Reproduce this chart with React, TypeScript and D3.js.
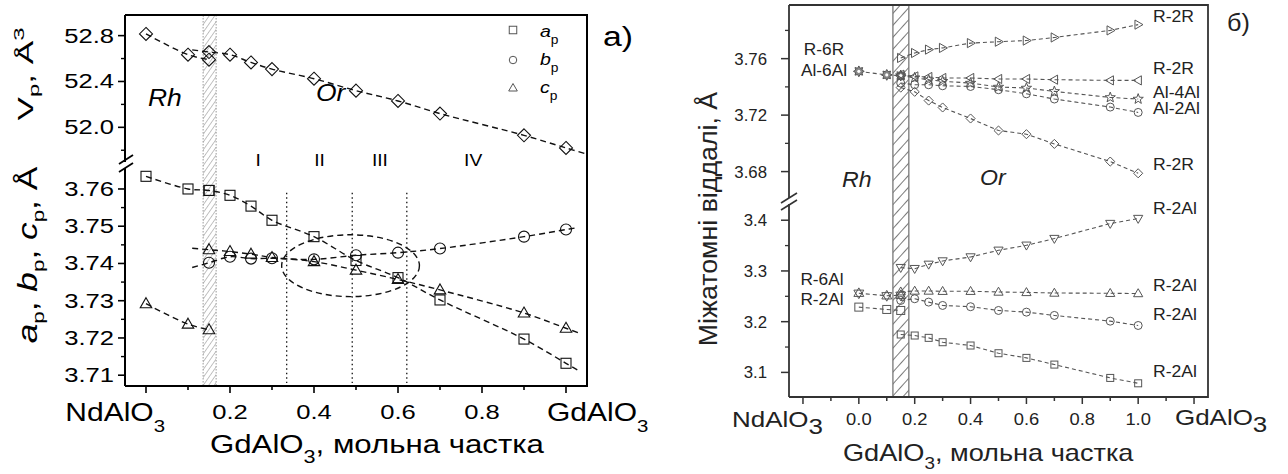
import React from "react";
import * as d3 from "d3";

const FONT = "'Liberation Sans', Arial, Helvetica, sans-serif";

// ---------------- Left panel (a) data ----------------
const compRh = [0, 0.1, 0.15];
const compOr = [0.15, 0.2, 0.25, 0.3, 0.4, 0.5, 0.6, 0.7, 0.9, 1.0];
const vpRh = [52.815, 52.634, 52.59];
const vpOr = [52.657, 52.634, 52.566, 52.508, 52.424, 52.32, 52.23, 52.12, 51.93, 51.82];
const apRh = [3.7634, 3.76, 3.7596];
const apOr = [3.7596, 3.7583, 3.7554, 3.7516, 3.7472, 3.7408, 3.7362, 3.7302, 3.7197, 3.7132];
const bpOr = [3.7402, 3.7418, 3.7413, 3.7414, 3.7411, 3.7422, 3.7429, 3.744, 3.7472, 3.7491];
const cpRh = [3.7292, 3.7237, 3.7222];
const cpOr = [3.7437, 3.7432, 3.7425, 3.7416, 3.7405, 3.7382, 3.7357, 3.7329, 3.7267, 3.7226];
const vTicksMajor = [52.0, 52.4, 52.8];
const vTicksMinor = [51.8, 52.2, 52.6];
const aTicksMajor = [3.71, 3.72, 3.73, 3.74, 3.75, 3.76];
const aTicksMinor = [3.715, 3.725, 3.735, 3.745, 3.755];
const xTicksL = [0, 0.1, 0.2, 0.3, 0.4, 0.5, 0.6, 0.7, 0.8, 0.9, 1.0];
const xLabelsL = ["0.2", "0.4", "0.6", "0.8"];
const regionNames = ["I", "II", "III", "IV"];
const regionCenters = [0.267, 0.413, 0.557, 0.779];
const regionBounds = [0.335, 0.491, 0.621];
const hatchL = [0.136, 0.167];
const ellipseX = [0.323, 0.651];
const ellipseY = [3.7311, 3.7477];
const legendNames = ["a", "b", "c"];

// ---------------- Right panel (б) data ----------------
const rRh = [0, 0.1, 0.15];
const rOr = [0.15, 0.2, 0.25, 0.3, 0.4, 0.5, 0.6, 0.7, 0.9, 1.0];
const r6R_Rh = [3.751, 3.7485, 3.748];
const r2R_right = [3.7605, 3.764, 3.7664, 3.7676, 3.771, 3.772, 3.7728, 3.775, 3.78, 3.7841];
const r2R_left = [3.7486, 3.7474, 3.747, 3.7463, 3.7463, 3.7456, 3.7456, 3.7451, 3.7446, 3.7446];
const al4Al = [3.748, 3.7465, 3.745, 3.744, 3.7427, 3.7399, 3.7392, 3.7368, 3.7325, 3.7314];
const al2Al = [3.7427, 3.7415, 3.7415, 3.7408, 3.7403, 3.738, 3.7351, 3.7314, 3.7257, 3.7219];
const r2R_diam = [3.7395, 3.7365, 3.7303, 3.7254, 3.7176, 3.7091, 3.7065, 3.6996, 3.6871, 3.6788];
const r6Al_Rh = [3.256, 3.251, 3.252];
const r2Al_Rh = [3.2287, 3.2241, 3.2221];
const r2Al_down = [3.3065, 3.3045, 3.313, 3.3196, 3.3275, 3.3407, 3.3506, 3.3638, 3.3934, 3.4033];
const r2Al_up = [3.259, 3.2605, 3.2605, 3.26, 3.26, 3.2585, 3.2577, 3.2565, 3.256, 3.2555];
const r2Al_circ = [3.2419, 3.2452, 3.2386, 3.232, 3.2295, 3.2221, 3.2188, 3.2123, 3.201, 3.1925];
const r2Al_sq = [3.1747, 3.1727, 3.1681, 3.1595, 3.153, 3.1378, 3.1286, 3.1154, 3.0891, 3.0785];
const uTicksMajor = [3.68, 3.72, 3.76];
const uTicksMinor = [3.7, 3.74, 3.78];
const loTicksMajor = [3.1, 3.2, 3.3, 3.4];
const loTicksMinor = [3.15, 3.25, 3.35];
const xTicksR = [-0.2, -0.1, 0, 0.1, 0.2, 0.3, 0.4, 0.5, 0.6, 0.7, 0.8, 0.9, 1.0, 1.1, 1.2];
const xLabelsR = [0, 0.2, 0.4, 0.6, 0.8, 1.0];
const hatchR = [0.122, 0.179];

function extend(xs: number[], ys: number[], x0?: number, x1?: number): [number[], number[]] {
  const X = [...xs];
  const Y = [...ys];
  if (x0 != null) {
    const s = (ys[1] - ys[0]) / (xs[1] - xs[0]);
    X.unshift(x0);
    Y.unshift(ys[0] + s * (x0 - xs[0]));
  }
  if (x1 != null) {
    const n = xs.length;
    const s = (ys[n - 1] - ys[n - 2]) / (xs[n - 1] - xs[n - 2]);
    X.push(x1);
    Y.push(ys[n - 1] + s * (x1 - xs[n - 1]));
  }
  return [X, Y];
}

function pathOf(xs: number[], ys: number[], xs_: any, ys_: any, curve: any) {
  return (
    d3
      .line<number>()
      .x((d) => xs_(d))
      .y((_, i) => ys_(ys[i]))
      .curve(curve)(xs) || ""
  );
}

function starPts(x: number, y: number, R: number, r: number, n: number, rot = -Math.PI / 2) {
  const pts: string[] = [];
  for (let i = 0; i < 2 * n; i++) {
    const rr = i % 2 === 0 ? R : r;
    const a = rot + (i * Math.PI) / n;
    pts.push(`${x + rr * Math.cos(a)},${y + rr * Math.sin(a)}`);
  }
  return pts.join(" ");
}

function Marker({ type, x, y, s, stroke, sw = 1, fill = "none" }: any) {
  const h = s / 2;
  const p = { stroke, strokeWidth: sw, fill };
  switch (type) {
    case "square":
      return <rect x={x - h} y={y - h} width={s} height={s} {...p} />;
    case "circle":
      return <circle cx={x} cy={y} r={h} {...p} />;
    case "triUp":
      return <polygon points={`${x},${y - h * 1.2} ${x + h * 1.15},${y + h * 0.8} ${x - h * 1.15},${y + h * 0.8}`} {...p} />;
    case "triDown":
      return <polygon points={`${x},${y + h * 1.2} ${x + h * 1.15},${y - h * 0.8} ${x - h * 1.15},${y - h * 0.8}`} {...p} />;
    case "triRight":
      return <polygon points={`${x + h * 1.2},${y} ${x - h * 0.8},${y - h * 1.15} ${x - h * 0.8},${y + h * 1.15}`} {...p} />;
    case "triLeft":
      return <polygon points={`${x - h * 1.2},${y} ${x + h * 0.8},${y - h * 1.15} ${x + h * 0.8},${y + h * 1.15}`} {...p} />;
    case "diamond":
      return <polygon points={`${x},${y - h * 1.3} ${x + h * 1.3},${y} ${x},${y + h * 1.3} ${x - h * 1.3},${y}`} {...p} />;
    case "star":
      return <polygon points={starPts(x, y, h * 1.2, h * 0.5, 5)} {...p} />;
    case "hexstar":
      return (
        <g>
          <polygon points={starPts(x, y, h * 1.2, h * 0.75, 8)} stroke={stroke} strokeWidth={sw} fill="#888" />
          <circle cx={x} cy={y} r={h * 0.35} fill="#fff" stroke="none" />
        </g>
      );
    case "david":
      return (
        <g>
          <polygon points={`${x},${y + h * 1.2} ${x + h * 1.1},${y - h * 0.7} ${x - h * 1.1},${y - h * 0.7}`} {...p} />
          <polygon points={`${x},${y - h * 1.2} ${x + h * 1.1},${y + h * 0.7} ${x - h * 1.1},${y + h * 0.7}`} {...p} />
        </g>
      );
    default:
      return null;
  }
}

function T({ x, y, sx = 1, rot = 0, anchor = "start", size, italic = false, fill = "#000", children }: any) {
  return (
    <text
      transform={`translate(${x},${y}) rotate(${rot}) scale(${sx},1)`}
      textAnchor={anchor}
      fontSize={size}
      fontStyle={italic ? "italic" : "normal"}
      fill={fill}
      fontFamily={FONT}
    >
      {children}
    </text>
  );
}

export default function App() {
  // Left scales
  const xL = d3.scaleLinear().domain([-0.05, 1.05]).range([125, 587]);
  const yV = d3.scaleLinear().domain([51.68, 52.98]).range([164, 15]);
  const yA = d3.scaleLinear().domain([3.7071, 3.7659]).range([386, 167]);
  // Right scales
  const xR = d3.scaleLinear().domain([-0.25, 1.25]).range([789, 1208]);
  const yU = d3.scaleLinear().domain([3.662, 3.798]).range([197, 5]);
  const yLo = d3.scaleLinear().domain([3.0515, 3.43]).range([397, 205]);

  const smooth = d3.curveCatmullRom.alpha(0.5);
  const lin = d3.curveLinear;

  const leftLines: [number[], number[], any][] = [];
  leftLines.push([compRh, vpRh, yV]);
  leftLines.push([...extend(compOr, vpOr, 0.11, 1.05), yV] as any);
  leftLines.push([...extend([...compRh, ...compOr.slice(1)], [...apRh, ...apOr.slice(1)], undefined, 1.03), yA] as any);
  leftLines.push([...extend(compOr, bpOr, 0.11, 1.03), yA] as any);
  leftLines.push([compRh, cpRh, yA]);
  leftLines.push([...extend(compOr, cpOr, 0.11, 1.03), yA] as any);

  const lc = "#111";
  const ms = 10;

  const rightSeries: { xs: number[]; ys: number[]; sc: any; type: string; s: number }[] = [
    { xs: rRh, ys: r6R_Rh, sc: yU, type: "hexstar", s: 9 },
    { xs: rOr, ys: r2R_right, sc: yU, type: "triRight", s: 8 },
    { xs: rOr, ys: r2R_left, sc: yU, type: "triLeft", s: 8 },
    { xs: rOr, ys: al4Al, sc: yU, type: "star", s: 9 },
    { xs: rOr, ys: al2Al, sc: yU, type: "circle", s: 8 },
    { xs: rOr, ys: r2R_diam, sc: yU, type: "diamond", s: 7 },
    { xs: rRh, ys: r6Al_Rh, sc: yLo, type: "david", s: 9 },
    { xs: rRh, ys: r2Al_Rh, sc: yLo, type: "square", s: 8 },
    { xs: rOr, ys: r2Al_down, sc: yLo, type: "triDown", s: 8 },
    { xs: rOr, ys: r2Al_up, sc: yLo, type: "triUp", s: 8 },
    { xs: rOr, ys: r2Al_circ, sc: yLo, type: "circle", s: 8 },
    { xs: rOr, ys: r2Al_sq, sc: yLo, type: "square", s: 7 },
  ];
  const rightLabelSeries = [
    { name: "R-2R", ys: r2R_right, sc: yU, dy: -3 },
    { name: "R-2R", ys: r2R_left, sc: yU, dy: -6 },
    { name: "Al-4Al", ys: al4Al, sc: yU, dy: -1 },
    { name: "Al-2Al", ys: al2Al, sc: yU, dy: 2 },
    { name: "R-2R", ys: r2R_diam, sc: yU, dy: -3 },
    { name: "R-2Al", ys: r2Al_down, sc: yLo, dy: -5 },
    { name: "R-2Al", ys: r2Al_up, sc: yLo, dy: -3 },
    { name: "R-2Al", ys: r2Al_circ, sc: yLo, dy: -5 },
    { name: "R-2Al", ys: r2Al_sq, sc: yLo, dy: -6 },
  ];
  const rc = "#555";
  const rTxt = "#222";

  return (
    <svg width={1288} height={474} style={{ position: "absolute", left: 0, top: 0, background: "#fff" }}>
      <defs>
        <pattern id="hatchL" width={4.5} height={4.5} patternUnits="userSpaceOnUse" patternTransform="rotate(35)">
          <line x1={0} y1={0} x2={0} y2={4.5} stroke="#999" strokeWidth={1.2} />
        </pattern>
        <pattern id="hatchR" width={8} height={8} patternUnits="userSpaceOnUse" patternTransform="rotate(42)">
          <line x1={0} y1={0} x2={0} y2={8} stroke="#333" strokeWidth={1.3} />
        </pattern>
      </defs>

      {/* ================= LEFT PANEL ================= */}
      <rect x={xL(hatchL[0])} y={15} width={xL(hatchL[1]) - xL(hatchL[0])} height={386 - 15} fill="url(#hatchL)" />
      <line x1={xL(hatchL[0])} x2={xL(hatchL[0])} y1={15} y2={386} stroke="#999" strokeWidth={1} strokeDasharray="1.5,1.5" />
      <line x1={xL(hatchL[1])} x2={xL(hatchL[1])} y1={15} y2={386} stroke="#999" strokeWidth={1} strokeDasharray="1.5,1.5" />

      {regionBounds.map((b, i) => (
        <line key={"rb" + i} x1={xL(b)} x2={xL(b)} y1={yA(3.759)} y2={383} stroke="#000" strokeWidth={1.2} strokeDasharray="1.5,3" />
      ))}
      <ellipse
        cx={(xL(ellipseX[0]) + xL(ellipseX[1])) / 2}
        cy={(yA(ellipseY[0]) + yA(ellipseY[1])) / 2}
        rx={(xL(ellipseX[1]) - xL(ellipseX[0])) / 2}
        ry={(yA(ellipseY[0]) - yA(ellipseY[1])) / 2}
        fill="none"
        stroke={lc}
        strokeWidth={1.4}
        strokeDasharray="6,4"
      />

      {leftLines.map(([xs, ys, sc], i) => (
        <path key={"ll" + i} d={pathOf(xs, ys, xL, sc, smooth)} fill="none" stroke={lc} strokeWidth={1.4} strokeDasharray="6,4" />
      ))}

      {compRh.map((c, i) => (
        <Marker key={"vr" + i} type="diamond" x={xL(c)} y={yV(vpRh[i])} s={ms} stroke={lc} sw={1.1} />
      ))}
      {compOr.map((c, i) => (
        <Marker key={"vo" + i} type="diamond" x={xL(c)} y={yV(vpOr[i])} s={ms} stroke={lc} sw={1.1} />
      ))}
      {compRh.map((c, i) => (
        <Marker key={"ar" + i} type="square" x={xL(c)} y={yA(apRh[i])} s={ms} stroke={lc} sw={1.1} />
      ))}
      {compOr.map((c, i) => (
        <Marker key={"ao" + i} type="square" x={xL(c)} y={yA(apOr[i])} s={ms} stroke={lc} sw={1.1} />
      ))}
      {compOr.map((c, i) => (
        <Marker key={"bo" + i} type="circle" x={xL(c)} y={yA(bpOr[i])} s={11} stroke={lc} sw={1.1} />
      ))}
      {compRh.map((c, i) => (
        <Marker key={"cr" + i} type="triUp" x={xL(c)} y={yA(cpRh[i])} s={ms} stroke={lc} sw={1.1} />
      ))}
      {compOr.map((c, i) => (
        <Marker key={"co" + i} type="triUp" x={xL(c)} y={yA(cpOr[i])} s={ms} stroke={lc} sw={1.1} />
      ))}

      {/* frame */}
      <path d={`M125,15 H587 V386 H125`} fill="none" stroke="#000" strokeWidth={2} />
      <line x1={125} x2={125} y1={15} y2={162} stroke="#000" strokeWidth={2} />
      <line x1={125} x2={125} y1={168} y2={386} stroke="#000" strokeWidth={2} />
      <line x1={119} x2={133} y1={164} y2={155} stroke="#000" strokeWidth={1.8} />
      <line x1={119} x2={133} y1={172} y2={163} stroke="#000" strokeWidth={1.8} />

      {/* y ticks */}
      {vTicksMajor.map((t) => (
        <g key={"vt" + t}>
          <line x1={118} x2={125} y1={yV(t)} y2={yV(t)} stroke="#000" strokeWidth={1.6} />
          <T x={114} y={yV(t) + 7} sx={1.28} anchor="end" size={20}>
            {t.toFixed(1)}
          </T>
        </g>
      ))}
      {vTicksMinor.map((t) => (
        <line key={"vm" + t} x1={121} x2={125} y1={yV(t)} y2={yV(t)} stroke="#000" strokeWidth={1.4} />
      ))}
      {aTicksMajor.map((t) => (
        <g key={"at" + t}>
          <line x1={118} x2={125} y1={yA(t)} y2={yA(t)} stroke="#000" strokeWidth={1.6} />
          <T x={114} y={yA(t) + 7} sx={1.28} anchor="end" size={20}>
            {t.toFixed(2)}
          </T>
        </g>
      ))}
      {aTicksMinor.map((t) => (
        <line key={"am" + t} x1={121} x2={125} y1={yA(t)} y2={yA(t)} stroke="#000" strokeWidth={1.4} />
      ))}
      {/* x ticks */}
      {xTicksL.map((t, i) => (
        <line key={"xt" + i} x1={xL(t)} x2={xL(t)} y1={386} y2={i % 2 === 0 ? 393 : 390} stroke="#000" strokeWidth={1.6} />
      ))}
      {xLabelsL.map((l) => (
        <T key={"xl" + l} x={xL(+l)} y={419} sx={1.28} anchor="middle" size={20}>
          {l}
        </T>
      ))}
      <T x={xL(0) + 19} y={421} sx={1.2} anchor="end" size={25}>
        NdAlO<tspan dy={11} fontSize={17}>3</tspan>
      </T>
      <T x={xL(1) - 19} y={421} sx={1.2} anchor="start" size={25}>
        GdAlO<tspan dy={11} fontSize={17}>3</tspan>
      </T>
      <T x={210} y={453} sx={1.2} size={26}>
        GdAlO<tspan dy={10} fontSize={18}>3</tspan>
        <tspan dy={-10}>, мольна частка</tspan>
      </T>

      {/* y titles */}
      <T x={33} y={74} rot={-90} sx={1.6} anchor="middle" size={22}>
        V<tspan dy={6} fontSize={15}>p</tspan>
        <tspan dy={-6}>, Å</tspan>
        <tspan dy={-9} fontSize={15}>3</tspan>
      </T>
      <T x={37} y={255} rot={-90} sx={1.31} anchor="middle" size={27}>
        <tspan fontStyle="italic">a</tspan>
        <tspan dy={7} fontSize={17}>p</tspan>
        <tspan dy={-7}>, </tspan>
        <tspan fontStyle="italic">b</tspan>
        <tspan dy={7} fontSize={17}>p</tspan>
        <tspan dy={-7}>, </tspan>
        <tspan fontStyle="italic">c</tspan>
        <tspan dy={7} fontSize={17}>p</tspan>
        <tspan dy={-7}>, Å</tspan>
      </T>

      {/* annotations */}
      <T x={148} y={106} sx={1.15} size={23} italic>
        Rh
      </T>
      <T x={316} y={101} sx={1.15} size={23} italic>
        Or
      </T>
      {regionNames.map((n, i) => (
        <T key={"rn" + n} x={xL(regionCenters[i])} y={166} sx={1.2} anchor="middle" size={16}>
          {n}
        </T>
      ))}
      <T x={603} y={46} sx={1.25} size={27}>
        a)
      </T>
      {/* legend */}
      {legendNames.map((n, i) => (
        <g key={"lg" + n}>
          <Marker type={["square", "circle", "triUp"][i]} x={513} y={[30, 60, 88][i]} s={7.5} stroke="#555" sw={1} />
          <T x={540} y={[37, 65, 93][i]} size={17} sx={1.15} italic>
            {n}
            <tspan dy={7} fontSize={12} fontStyle="normal">
              p
            </tspan>
          </T>
        </g>
      ))}

      {/* ================= RIGHT PANEL ================= */}
      <rect x={xR(hatchR[0])} y={5} width={xR(hatchR[1]) - xR(hatchR[0])} height={397 - 5} fill="url(#hatchR)" />
      <line x1={xR(hatchR[0])} x2={xR(hatchR[0])} y1={5} y2={397} stroke="#777" strokeWidth={1.3} />
      <line x1={xR(hatchR[1])} x2={xR(hatchR[1])} y1={5} y2={397} stroke="#777" strokeWidth={1.3} />

      {rightSeries.map((s, i) => (
        <path key={"rl" + i} d={pathOf(s.xs, s.ys, xR, s.sc, lin)} fill="none" stroke={rc} strokeWidth={1.1} strokeDasharray="4,3" />
      ))}
      {rightSeries.map((s, i) =>
        s.xs.map((c, j) => <Marker key={"rm" + i + "_" + j} type={s.type} x={xR(c)} y={s.sc(s.ys[j])} s={s.s} stroke={rc} sw={1} />)
      )}

      <path d={`M789,5 H1208 V397 H789`} fill="none" stroke="#333" strokeWidth={1.8} />
      <line x1={789} x2={789} y1={5} y2={198} stroke="#333" strokeWidth={1.8} />
      <line x1={789} x2={789} y1={204} y2={397} stroke="#333" strokeWidth={1.8} />
      <line x1={781} x2={797} y1={203} y2={193} stroke="#333" strokeWidth={1.6} />
      <line x1={781} x2={797} y1={210} y2={200} stroke="#333" strokeWidth={1.6} />

      {uTicksMajor.map((t) => (
        <g key={"ut" + t}>
          <line x1={781} x2={789} y1={yU(t)} y2={yU(t)} stroke="#333" strokeWidth={1.5} />
          <T x={767} y={yU(t) + 6} anchor="end" size={16} sx={1.05} fill={rTxt}>
            {t.toFixed(2)}
          </T>
        </g>
      ))}
      {uTicksMinor.map((t) => (
        <line key={"um" + t} x1={785} x2={789} y1={yU(t)} y2={yU(t)} stroke="#333" strokeWidth={1.3} />
      ))}
      {loTicksMajor.map((t) => (
        <g key={"lt" + t}>
          <line x1={781} x2={789} y1={yLo(t)} y2={yLo(t)} stroke="#333" strokeWidth={1.5} />
          <T x={767} y={yLo(t) + 6} anchor="end" size={16} sx={1.05} fill={rTxt}>
            {t.toFixed(1)}
          </T>
        </g>
      ))}
      {loTicksMinor.map((t) => (
        <line key={"lm" + t} x1={785} x2={789} y1={yLo(t)} y2={yLo(t)} stroke="#333" strokeWidth={1.3} />
      ))}
      {xTicksR.map((t, i) => (
        <line key={"rx" + i} x1={xR(t)} x2={xR(t)} y1={397} y2={i % 2 === 0 ? 404 : 401} stroke="#333" strokeWidth={1.5} />
      ))}
      {xLabelsR.map((t) => (
        <T key={"rxl" + t} x={xR(t)} y={425} anchor="middle" size={17} sx={1.08} fill={rTxt}>
          {t.toFixed(1)}
        </T>
      ))}
      <T x={732} y={427} size={22} sx={1.18} fill={rTxt}>
        NdAlO<tspan dy={7} fontSize={22}>3</tspan>
      </T>
      <T x={1175} y={425} size={22} sx={1.18} fill={rTxt}>
        GdAlO<tspan dy={7} fontSize={22}>3</tspan>
      </T>
      <T x={843} y={461} size={23} sx={1.18} fill={rTxt}>
        GdAlO<tspan dy={8} fontSize={16}>3</tspan>
        <tspan dy={-8}>, мольна частка</tspan>
      </T>
      <T x={717} y={219} rot={-90} anchor="middle" size={26} sx={1.03} fill={rTxt}>
        Міжатомні віддалі, Å
      </T>

      <T x={842} y={187} size={22} sx={1.05} italic fill={rTxt}>
        Rh
      </T>
      <T x={980} y={185} size={22} sx={1.05} italic fill={rTxt}>
        Or
      </T>
      <T x={1227} y={31} size={24} sx={1.05} fill={rTxt}>
        б)
      </T>

      <T x={824} y={55} anchor="middle" size={16} sx={1.08} fill={rTxt}>
        R-6R
      </T>
      <T x={824} y={76} anchor="middle" size={16} sx={1.08} fill={rTxt}>
        Al-6Al
      </T>
      <T x={822} y={285} anchor="middle" size={16} sx={1.08} fill={rTxt}>
        R-6Al
      </T>
      <T x={822} y={305} anchor="middle" size={16} sx={1.08} fill={rTxt}>
        R-2Al
      </T>
      {rightLabelSeries.map((l, i) => (
        <T key={"rlab" + i} x={1153} y={l.sc(l.ys[l.ys.length - 1]) + l.dy} size={16} sx={1.1} fill={rTxt}>
          {l.name}
        </T>
      ))}
    </svg>
  );
}
